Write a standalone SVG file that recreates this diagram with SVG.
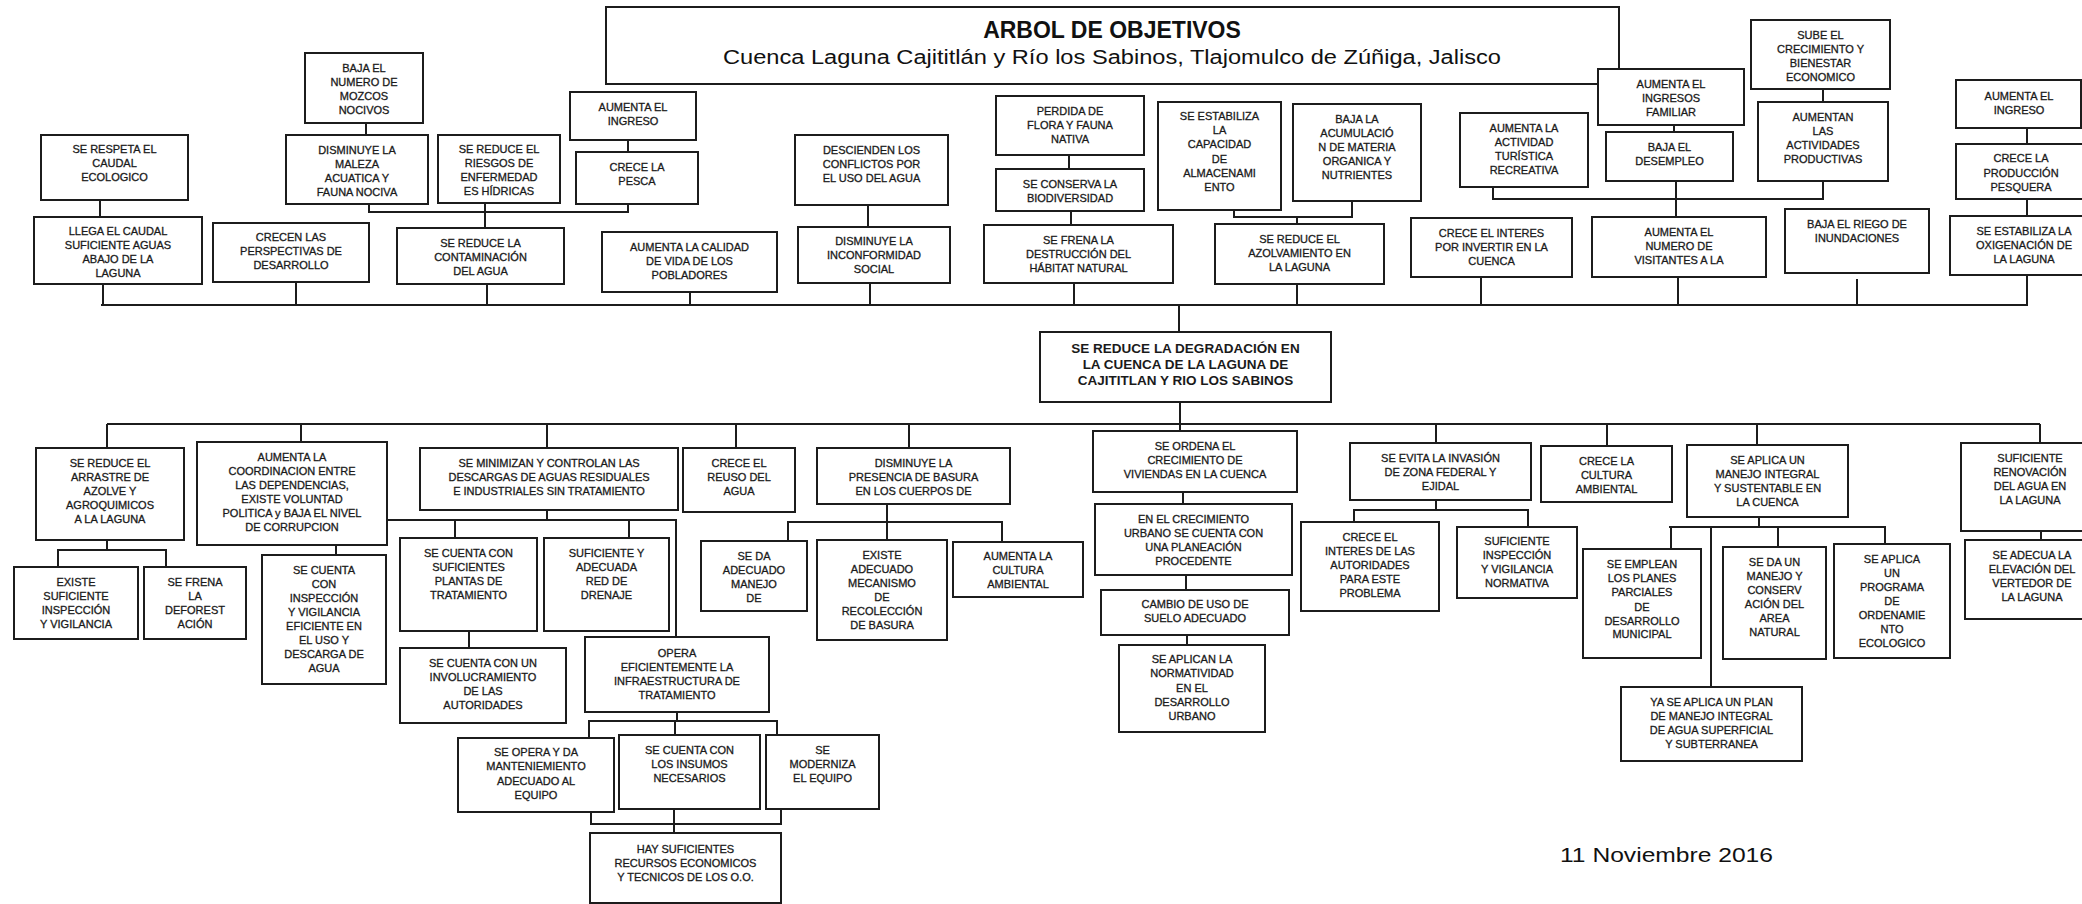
<svg xmlns="http://www.w3.org/2000/svg" width="2082" height="904" viewBox="0 0 2082 904">
<style>
.b{fill:#fff;stroke:#1c1c1c;stroke-width:2}
.t{font-family:"Liberation Sans",Arial,sans-serif;font-size:11px;fill:#1a1a1a;stroke:#1a1a1a;stroke-width:0.3;text-anchor:middle}
.tb{font-family:"Liberation Sans",Arial,sans-serif;font-size:13.5px;font-weight:bold;fill:#1a1a1a;text-anchor:middle}
.c{fill:none;stroke:#1c1c1c;stroke-width:2}
.h{font-family:"Liberation Sans",Arial,sans-serif;fill:#111}
</style>
<rect width="2082" height="904" fill="#fff"/>

<!-- title -->
<g id="title">
<rect class="b" x="606" y="7" width="1013" height="77"/>
<text class="h" x="1112" y="38" font-size="23" font-weight="bold" text-anchor="middle">ARBOL DE OBJETIVOS</text>
<text class="h" x="723" y="64" font-size="20" textLength="778" lengthAdjust="spacingAndGlyphs">Cuenca Laguna Cajititlán y Río los Sabinos, Tlajomulco de Zúñiga, Jalisco</text>
</g>

<!-- connectors -->
<g id="connectors" class="c">
<path d="M100 200V217M366 123V135M369 204V212H628V204M485 203V228M628 140V152"/>
<path d="M868 205V227M1069 155V169M1071 211V225"/>
<path d="M1234 210V217H1352V201M1297 217V224"/>
<path d="M1493 187V199H1823V181M1676 181V217M1674 125V132M1823 89V102"/>
<path d="M2027 128V144M2027 199V216"/>
<path d="M101 305H2028M103 284V305M296 282V305M487 284V305M690 292V305M870 283V305M1074 283V305M1297 284V305M1481 277V305M1678 277V305M1857 279V305M2027 275V305"/>
<path d="M1179 305V332M1180 402V431"/>
<path d="M107 424H2040M107 424V448M301 424V442M547 424V448M736 424V448M909 424V448M1436 424V443M1607 424V446M1757 424V445M2040 424V443"/>
<path d="M107 540V550M58 567V550H166V567M336 545V555"/>
<path d="M387 520H676V637M547 510V520M455 520V538M629 520V538M469 631V648"/>
<path d="M677 712V721M589 737V721H777V735M675 721V735"/>
<path d="M591 812V824H781V809M674 809V833"/>
<path d="M887 504V540M788 541V522H1002V542"/>
<path d="M1183 492V504M1186 575V590M1187 635V645"/>
<path d="M1436 500V510M1354 522V510H1528V527"/>
<path d="M1759 517V527M1669 527H1885V544M1671 527V549M1711 527V687M1778 527V547"/>
<path d="M2041 531V540"/>
</g>

<!-- effects (upper part) -->
<g id="n-respeta"><rect class="b" x="41" y="135" width="147" height="65"/><text class="t" y="153"><tspan x="114.5">SE RESPETA EL</tspan><tspan x="114.5" dy="14">CAUDAL</tspan><tspan x="114.5" dy="14">ECOLOGICO</tspan></text></g>
<g id="n-llega"><rect class="b" x="34" y="217" width="168" height="67"/><text class="t" y="235"><tspan x="118">LLEGA EL CAUDAL</tspan><tspan x="118" dy="14">SUFICIENTE AGUAS</tspan><tspan x="118" dy="14">ABAJO DE LA</tspan><tspan x="118" dy="14">LAGUNA</tspan></text></g>
<g id="n-crecen"><rect class="b" x="213" y="223" width="156" height="59"/><text class="t" y="241"><tspan x="291">CRECEN LAS</tspan><tspan x="291" dy="14">PERSPECTIVAS DE</tspan><tspan x="291" dy="14">DESARROLLO</tspan></text></g>
<g id="n-mozcos"><rect class="b" x="305" y="53" width="118" height="70"/><text class="t" y="72"><tspan x="364">BAJA EL</tspan><tspan x="364" dy="14">NUMERO DE</tspan><tspan x="364" dy="14">MOZCOS</tspan><tspan x="364" dy="14">NOCIVOS</tspan></text></g>
<g id="n-maleza"><rect class="b" x="286" y="135" width="142" height="69"/><text class="t" y="154"><tspan x="357">DISMINUYE LA</tspan><tspan x="357" dy="14">MALEZA</tspan><tspan x="357" dy="14">ACUATICA Y</tspan><tspan x="357" dy="14">FAUNA NOCIVA</tspan></text></g>
<g id="n-riesgos"><rect class="b" x="438" y="135" width="122" height="68"/><text class="t" y="153"><tspan x="499">SE REDUCE EL</tspan><tspan x="499" dy="14">RIESGOS DE</tspan><tspan x="499" dy="14">ENFERMEDAD</tspan><tspan x="499" dy="14">ES HÍDRICAS</tspan></text></g>
<g id="n-contam"><rect class="b" x="397" y="228" width="167" height="56"/><text class="t" y="247"><tspan x="480.5">SE REDUCE LA</tspan><tspan x="480.5" dy="14">CONTAMINACIÓN</tspan><tspan x="480.5" dy="14">DEL AGUA</tspan></text></g>
<g id="n-ingreso1"><rect class="b" x="570" y="92" width="126" height="48"/><text class="t" y="111"><tspan x="633">AUMENTA EL</tspan><tspan x="633" dy="14">INGRESO</tspan></text></g>
<g id="n-pesca"><rect class="b" x="576" y="152" width="122" height="52"/><text class="t" y="171"><tspan x="637">CRECE LA</tspan><tspan x="637" dy="14">PESCA</tspan></text></g>
<g id="n-calidad"><rect class="b" x="602" y="232" width="175" height="60"/><text class="t" y="251"><tspan x="689.5">AUMENTA LA CALIDAD</tspan><tspan x="689.5" dy="14">DE VIDA DE LOS</tspan><tspan x="689.5" dy="14">POBLADORES</tspan></text></g>
<g id="n-conflictos"><rect class="b" x="795" y="135" width="153" height="70"/><text class="t" y="154"><tspan x="871.5">DESCIENDEN LOS</tspan><tspan x="871.5" dy="14">CONFLICTOS POR</tspan><tspan x="871.5" dy="14">EL USO DEL AGUA</tspan></text></g>
<g id="n-inconf"><rect class="b" x="798" y="227" width="152" height="56"/><text class="t" y="245"><tspan x="874">DISMINUYE LA</tspan><tspan x="874" dy="14">INCONFORMIDAD</tspan><tspan x="874" dy="14">SOCIAL</tspan></text></g>
<g id="n-perdida"><rect class="b" x="996" y="96" width="148" height="59"/><text class="t" y="115"><tspan x="1070">PERDIDA DE</tspan><tspan x="1070" dy="14">FLORA Y FAUNA</tspan><tspan x="1070" dy="14">NATIVA</tspan></text></g>
<g id="n-conserva"><rect class="b" x="996" y="169" width="148" height="42"/><text class="t" y="188"><tspan x="1070">SE CONSERVA LA</tspan><tspan x="1070" dy="14">BIODIVERSIDAD</tspan></text></g>
<g id="n-frena"><rect class="b" x="984" y="225" width="189" height="58"/><text class="t" y="244"><tspan x="1078.5">SE FRENA LA</tspan><tspan x="1078.5" dy="14">DESTRUCCIÓN DEL</tspan><tspan x="1078.5" dy="14">HÁBITAT NATURAL</tspan></text></g>
<g id="n-capacidad"><rect class="b" x="1158" y="102" width="123" height="108"/><text class="t" y="120"><tspan x="1219.5">SE ESTABILIZA</tspan><tspan x="1219.5" dy="14.2">LA</tspan><tspan x="1219.5" dy="14.2">CAPACIDAD</tspan><tspan x="1219.5" dy="14.2">DE</tspan><tspan x="1219.5" dy="14.2">ALMACENAMI</tspan><tspan x="1219.5" dy="14.2">ENTO</tspan></text></g>
<g id="n-acumul"><rect class="b" x="1293" y="104" width="128" height="97"/><text class="t" y="123"><tspan x="1357">BAJA LA</tspan><tspan x="1357" dy="14">ACUMULACIÓ</tspan><tspan x="1357" dy="14">N DE MATERIA</tspan><tspan x="1357" dy="14">ORGANICA Y</tspan><tspan x="1357" dy="14">NUTRIENTES</tspan></text></g>
<g id="n-azolv"><rect class="b" x="1215" y="224" width="169" height="60"/><text class="t" y="243"><tspan x="1299.5">SE REDUCE EL</tspan><tspan x="1299.5" dy="14">AZOLVAMIENTO EN</tspan><tspan x="1299.5" dy="14">LA LAGUNA</tspan></text></g>
<g id="n-turistica"><rect class="b" x="1460" y="113" width="128" height="74"/><text class="t" y="132"><tspan x="1524">AUMENTA LA</tspan><tspan x="1524" dy="14">ACTIVIDAD</tspan><tspan x="1524" dy="14">TURÍSTICA</tspan><tspan x="1524" dy="14">RECREATIVA</tspan></text></g>
<g id="n-interes"><rect class="b" x="1411" y="218" width="161" height="59"/><text class="t" y="237"><tspan x="1491.5">CRECE EL INTERES</tspan><tspan x="1491.5" dy="14">POR INVERTIR EN LA</tspan><tspan x="1491.5" dy="14">CUENCA</tspan></text></g>
<g id="n-ingfam"><rect class="b" x="1598" y="69" width="146" height="56"/><text class="t" y="88"><tspan x="1671">AUMENTA EL</tspan><tspan x="1671" dy="14">INGRESOS</tspan><tspan x="1671" dy="14">FAMILIAR</tspan></text></g>
<g id="n-desempleo"><rect class="b" x="1606" y="132" width="127" height="49"/><text class="t" y="151"><tspan x="1669.5">BAJA EL</tspan><tspan x="1669.5" dy="14">DESEMPLEO</tspan></text></g>
<g id="n-subecrec"><rect class="b" x="1751" y="20" width="139" height="69"/><text class="t" y="39"><tspan x="1820.5">SUBE EL</tspan><tspan x="1820.5" dy="14">CRECIMIENTO  Y</tspan><tspan x="1820.5" dy="14">BIENESTAR</tspan><tspan x="1820.5" dy="14">ECONOMICO</tspan></text></g>
<g id="n-actprod"><rect class="b" x="1758" y="102" width="130" height="79"/><text class="t" y="121"><tspan x="1823">AUMENTAN</tspan><tspan x="1823" dy="14">LAS</tspan><tspan x="1823" dy="14">ACTIVIDADES</tspan><tspan x="1823" dy="14">PRODUCTIVAS</tspan></text></g>
<g id="n-visitantes"><rect class="b" x="1592" y="217" width="174" height="60"/><text class="t" y="236"><tspan x="1679">AUMENTA EL</tspan><tspan x="1679" dy="14">NUMERO DE</tspan><tspan x="1679" dy="14">VISITANTES A LA</tspan></text></g>
<g id="n-inund"><rect class="b" x="1785" y="209" width="144" height="64"/><text class="t" y="228"><tspan x="1857">BAJA EL RIEGO DE</tspan><tspan x="1857" dy="14">INUNDACIONES</tspan></text></g>
<g id="n-ingreso2"><rect class="b" x="1956" y="80" width="125" height="48"/><text class="t" y="100"><tspan x="2019">AUMENTA EL</tspan><tspan x="2019" dy="14">INGRESO</tspan></text></g>
<g id="n-prodpesq"><rect class="b" x="1956" y="144" width="130" height="55"/><text class="t" y="162"><tspan x="2021">CRECE  LA</tspan><tspan x="2021" dy="14.5">PRODUCCIÓN</tspan><tspan x="2021" dy="14.5">PESQUERA</tspan></text></g>
<g id="n-oxig"><rect class="b" x="1950" y="216" width="148" height="59"/><text class="t" y="235"><tspan x="2024">SE ESTABILIZA LA</tspan><tspan x="2024" dy="14">OXIGENACIÓN DE</tspan><tspan x="2024" dy="14">LA LAGUNA</tspan></text></g>

<!-- central objective -->
<g id="n-central"><rect class="b" x="1040" y="332" width="291" height="70"/><text class="tb" y="353"><tspan x="1185.5">SE REDUCE LA DEGRADACIÓN EN</tspan><tspan x="1185.5" dy="16">LA CUENCA DE LA LAGUNA DE</tspan><tspan x="1185.5" dy="16">CAJITITLAN  Y RIO LOS SABINOS</tspan></text></g>

<!-- means (lower part) -->
<g id="n-arrastre"><rect class="b" x="36" y="448" width="148" height="92"/><text class="t" y="467"><tspan x="110">SE REDUCE EL</tspan><tspan x="110" dy="14">ARRASTRE DE</tspan><tspan x="110" dy="14">AZOLVE Y</tspan><tspan x="110" dy="14">AGROQUIMICOS</tspan><tspan x="110" dy="14">A LA LAGUNA</tspan></text></g>
<g id="n-existe"><rect class="b" x="14" y="567" width="124" height="72"/><text class="t" y="586"><tspan x="76">EXISTE</tspan><tspan x="76" dy="14">SUFICIENTE</tspan><tspan x="76" dy="14">INSPECCIÓN</tspan><tspan x="76" dy="14">Y VIGILANCIA</tspan></text></g>
<g id="n-frenadef"><rect class="b" x="144" y="567" width="102" height="72"/><text class="t" y="586"><tspan x="195">SE FRENA</tspan><tspan x="195" dy="14">LA</tspan><tspan x="195" dy="14">DEFOREST</tspan><tspan x="195" dy="14">ACIÓN</tspan></text></g>
<g id="n-coord"><rect class="b" x="197" y="442" width="190" height="103"/><text class="t" y="461"><tspan x="292">AUMENTA LA</tspan><tspan x="292" dy="14">COORDINACION  ENTRE</tspan><tspan x="292" dy="14">LAS DEPENDENCIAS,</tspan><tspan x="292" dy="14">EXISTE VOLUNTAD</tspan><tspan x="292" dy="14">POLITICA y BAJA EL NIVEL</tspan><tspan x="292" dy="14">DE CORRUPCION</tspan></text></g>
<g id="n-inspeccion"><rect class="b" x="262" y="555" width="124" height="129"/><text class="t" y="574"><tspan x="324">SE CUENTA</tspan><tspan x="324" dy="14">CON</tspan><tspan x="324" dy="14">INSPECCIÓN</tspan><tspan x="324" dy="14">Y VIGILANCIA</tspan><tspan x="324" dy="14">EFICIENTE EN</tspan><tspan x="324" dy="14">EL USO Y</tspan><tspan x="324" dy="14">DESCARGA DE</tspan><tspan x="324" dy="14">AGUA</tspan></text></g>
<g id="n-minimizan"><rect class="b" x="420" y="448" width="258" height="62"/><text class="t" y="467"><tspan x="549">SE MINIMIZAN Y CONTROLAN  LAS</tspan><tspan x="549" dy="14">DESCARGAS DE AGUAS  RESIDUALES</tspan><tspan x="549" dy="14">E INDUSTRIALES  SIN TRATAMIENTO</tspan></text></g>
<g id="n-reuso"><rect class="b" x="683" y="448" width="112" height="64"/><text class="t" y="467"><tspan x="739">CRECE EL</tspan><tspan x="739" dy="14">REUSO  DEL</tspan><tspan x="739" dy="14">AGUA</tspan></text></g>
<g id="n-basura"><rect class="b" x="817" y="448" width="193" height="56"/><text class="t" y="467"><tspan x="913.5">DISMINUYE LA</tspan><tspan x="913.5" dy="14">PRESENCIA DE BASURA</tspan><tspan x="913.5" dy="14">EN LOS CUERPOS DE</tspan></text></g>
<g id="n-seda"><rect class="b" x="701" y="541" width="106" height="70"/><text class="t" y="560"><tspan x="754">SE DA</tspan><tspan x="754" dy="14">ADECUADO</tspan><tspan x="754" dy="14">MANEJO</tspan><tspan x="754" dy="14">DE</tspan></text></g>
<g id="n-mecanismo"><rect class="b" x="817" y="540" width="130" height="100"/><text class="t" y="559"><tspan x="882">EXISTE</tspan><tspan x="882" dy="14">ADECUADO</tspan><tspan x="882" dy="14">MECANISMO</tspan><tspan x="882" dy="14">DE</tspan><tspan x="882" dy="14">RECOLECCIÓN</tspan><tspan x="882" dy="14">DE BASURA</tspan></text></g>
<g id="n-cultura1"><rect class="b" x="953" y="542" width="130" height="55"/><text class="t" y="560"><tspan x="1018">AUMENTA LA</tspan><tspan x="1018" dy="14">CULTURA</tspan><tspan x="1018" dy="14">AMBIENTAL</tspan></text></g>
<g id="n-plantas"><rect class="b" x="400" y="538" width="137" height="93"/><text class="t" y="557"><tspan x="468.5">SE CUENTA CON</tspan><tspan x="468.5" dy="14">SUFICIENTES</tspan><tspan x="468.5" dy="14">PLANTAS DE</tspan><tspan x="468.5" dy="14">TRATAMIENTO</tspan></text></g>
<g id="n-drenaje"><rect class="b" x="544" y="538" width="125" height="93"/><text class="t" y="557"><tspan x="606.5">SUFICIENTE Y</tspan><tspan x="606.5" dy="14">ADECUADA</tspan><tspan x="606.5" dy="14">RED DE</tspan><tspan x="606.5" dy="14">DRENAJE</tspan></text></g>
<g id="n-involucra"><rect class="b" x="400" y="648" width="166" height="75"/><text class="t" y="667"><tspan x="483">SE  CUENTA CON UN</tspan><tspan x="483" dy="14">INVOLUCRAMIENTO</tspan><tspan x="483" dy="14">DE LAS</tspan><tspan x="483" dy="14">AUTORIDADES</tspan></text></g>
<g id="n-opera"><rect class="b" x="585" y="637" width="184" height="75"/><text class="t" y="657"><tspan x="677">OPERA</tspan><tspan x="677" dy="14">EFICIENTEMENTE  LA</tspan><tspan x="677" dy="14">INFRAESTRUCTURA DE</tspan><tspan x="677" dy="14">TRATAMIENTO</tspan></text></g>
<g id="n-mantenim"><rect class="b" x="458" y="738" width="156" height="74"/><text class="t" y="756"><tspan x="536">SE OPERA Y DA</tspan><tspan x="536" dy="14.3">MANTENIEMIENTO</tspan><tspan x="536" dy="14.3">ADECUADO AL</tspan><tspan x="536" dy="14.3">EQUIPO</tspan></text></g>
<g id="n-insumos"><rect class="b" x="619" y="735" width="141" height="74"/><text class="t" y="754"><tspan x="689.5">SE CUENTA CON</tspan><tspan x="689.5" dy="14">LOS INSUMOS</tspan><tspan x="689.5" dy="14">NECESARIOS</tspan></text></g>
<g id="n-moderniza"><rect class="b" x="766" y="735" width="113" height="74"/><text class="t" y="754"><tspan x="822.5">SE</tspan><tspan x="822.5" dy="14">MODERNIZA</tspan><tspan x="822.5" dy="14">EL EQUIPO</tspan></text></g>
<g id="n-recursos"><rect class="b" x="590" y="833" width="191" height="70"/><text class="t" y="853"><tspan x="685.5">HAY SUFICIENTES</tspan><tspan x="685.5" dy="14">RECURSOS ECONOMICOS</tspan><tspan x="685.5" dy="14">Y TECNICOS DE LOS O.O.</tspan></text></g>
<g id="n-ordena"><rect class="b" x="1093" y="431" width="204" height="61"/><text class="t" y="450"><tspan x="1195">SE ORDENA EL</tspan><tspan x="1195" dy="14">CRECIMIENTO DE</tspan><tspan x="1195" dy="14">VIVIENDAS EN LA CUENCA</tspan></text></g>
<g id="n-planea"><rect class="b" x="1095" y="504" width="197" height="71"/><text class="t" y="523"><tspan x="1193.5">EN EL CRECIMIENTO</tspan><tspan x="1193.5" dy="14">URBANO SE CUENTA CON</tspan><tspan x="1193.5" dy="14">UNA PLANEACIÓN</tspan><tspan x="1193.5" dy="14">PROCEDENTE</tspan></text></g>
<g id="n-suelo"><rect class="b" x="1101" y="590" width="188" height="45"/><text class="t" y="608"><tspan x="1195">CAMBIO DE USO DE</tspan><tspan x="1195" dy="14">SUELO ADECUADO</tspan></text></g>
<g id="n-normativ"><rect class="b" x="1119" y="645" width="146" height="87"/><text class="t" y="663"><tspan x="1192">SE APLICAN LA</tspan><tspan x="1192" dy="14">NORMATIVIDAD</tspan><tspan x="1192" dy="14.5">EN EL</tspan><tspan x="1192" dy="14">DESARROLLO</tspan><tspan x="1192" dy="14">URBANO</tspan></text></g>
<g id="n-invasion"><rect class="b" x="1350" y="443" width="181" height="57"/><text class="t" y="462"><tspan x="1440.5">SE EVITA LA INVASIÓN</tspan><tspan x="1440.5" dy="14">DE ZONA FEDERAL Y</tspan><tspan x="1440.5" dy="14">EJIDAL</tspan></text></g>
<g id="n-interesaut"><rect class="b" x="1301" y="522" width="138" height="89"/><text class="t" y="541"><tspan x="1370">CRECE EL</tspan><tspan x="1370" dy="14">INTERES DE LAS</tspan><tspan x="1370" dy="14">AUTORIDADES</tspan><tspan x="1370" dy="14">PARA ESTE</tspan><tspan x="1370" dy="14">PROBLEMA</tspan></text></g>
<g id="n-sufinsp"><rect class="b" x="1457" y="527" width="120" height="71"/><text class="t" y="545"><tspan x="1517">SUFICIENTE</tspan><tspan x="1517" dy="14">INSPECCIÓN</tspan><tspan x="1517" dy="14">Y VIGILANCIA</tspan><tspan x="1517" dy="14">NORMATIVA</tspan></text></g>
<g id="n-cultura2"><rect class="b" x="1541" y="446" width="131" height="56"/><text class="t" y="465"><tspan x="1606.5">CRECE LA</tspan><tspan x="1606.5" dy="14">CULTURA</tspan><tspan x="1606.5" dy="14">AMBIENTAL</tspan></text></g>
<g id="n-integral"><rect class="b" x="1687" y="445" width="161" height="72"/><text class="t" y="464"><tspan x="1767.5">SE APLICA UN</tspan><tspan x="1767.5" dy="14">MANEJO INTEGRAL</tspan><tspan x="1767.5" dy="14">Y SUSTENTABLE  EN</tspan><tspan x="1767.5" dy="14">LA CUENCA</tspan></text></g>
<g id="n-emplean"><rect class="b" x="1583" y="549" width="118" height="109"/><text class="t" y="568"><tspan x="1642">SE EMPLEAN</tspan><tspan x="1642" dy="14">LOS PLANES</tspan><tspan x="1642" dy="14">PARCIALES</tspan><tspan x="1642" dy="14.5">DE</tspan><tspan x="1642" dy="14">DESARROLLO</tspan><tspan x="1642" dy="13.5">MUNICIPAL</tspan></text></g>
<g id="n-conserv"><rect class="b" x="1723" y="547" width="103" height="112"/><text class="t" y="566"><tspan x="1774.5">SE DA UN</tspan><tspan x="1774.5" dy="14">MANEJO Y</tspan><tspan x="1774.5" dy="14">CONSERV</tspan><tspan x="1774.5" dy="14">ACIÓN DEL</tspan><tspan x="1774.5" dy="14">AREA</tspan><tspan x="1774.5" dy="14">NATURAL</tspan></text></g>
<g id="n-ordenam"><rect class="b" x="1834" y="544" width="116" height="114"/><text class="t" y="563"><tspan x="1892">SE APLICA</tspan><tspan x="1892" dy="14">UN</tspan><tspan x="1892" dy="14">PROGRAMA</tspan><tspan x="1892" dy="14">DE</tspan><tspan x="1892" dy="14">ORDENAMIE</tspan><tspan x="1892" dy="14">NTO</tspan><tspan x="1892" dy="14">ECOLOGICO</tspan></text></g>
<g id="n-yaseaplica"><rect class="b" x="1621" y="687" width="181" height="74"/><text class="t" y="706"><tspan x="1711.5">YA SE APLICA UN PLAN</tspan><tspan x="1711.5" dy="14">DE MANEJO INTEGRAL</tspan><tspan x="1711.5" dy="14">DE AGUA  SUPERFICIAL</tspan><tspan x="1711.5" dy="14">Y SUBTERRANEA</tspan></text></g>
<g id="n-renov"><rect class="b" x="1961" y="443" width="140" height="88"/><text class="t" y="462"><tspan x="2030">SUFICIENTE</tspan><tspan x="2030" dy="14">RENOVACIÓN</tspan><tspan x="2030" dy="14">DEL AGUA EN</tspan><tspan x="2030" dy="14">LA LAGUNA</tspan></text></g>
<g id="n-vertedor"><rect class="b" x="1965" y="540" width="140" height="79"/><text class="t" y="559"><tspan x="2032">SE ADECUA LA</tspan><tspan x="2032" dy="14">ELEVACIÓN DEL</tspan><tspan x="2032" dy="14">VERTEDOR DE</tspan><tspan x="2032" dy="14">LA LAGUNA</tspan></text></g>

<!-- date -->
<text class="h" x="1560" y="862" font-size="20" textLength="213" lengthAdjust="spacingAndGlyphs">11 Noviembre 2016</text>
</svg>
